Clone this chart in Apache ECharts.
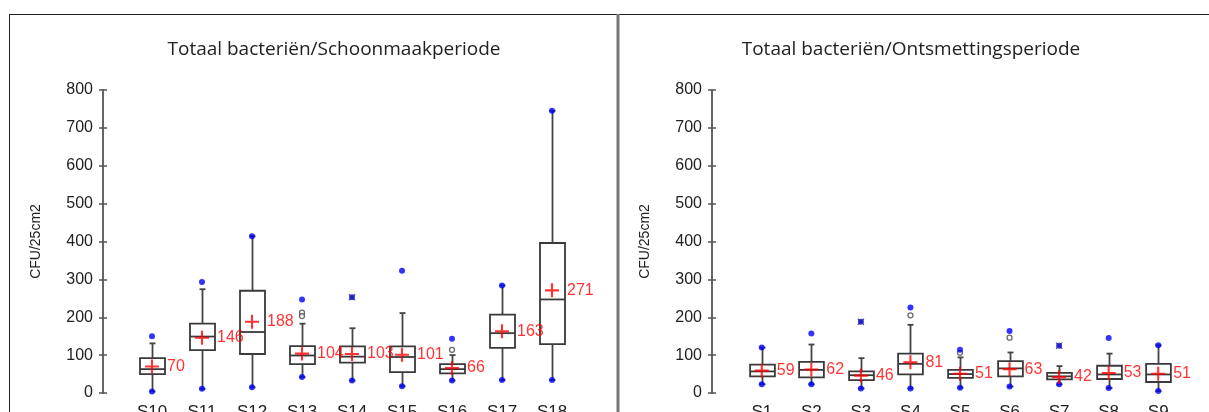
<!DOCTYPE html>
<html>
<head>
<meta charset="utf-8">
<title>Totaal bacteriën</title>
<script src="https://cdn.jsdelivr.net/npm/echarts@6/dist/echarts.min.js"></script>
<style>
  html, body { margin: 0; padding: 0; background: #fff; }
  #container { width: 1209px; height: 412px; }
</style>
</head>
<body>
<div id="container"></div>
<script>
// Schoonmaakperiode (links)
var cats1 = ['S10', 'S11', 'S12', 'S13', 'S14', 'S15', 'S16', 'S17', 'S18'];
var low1 = [4, 11, 15, 42, 33, 18, 33, 34, 34];
var q1_1 = [50, 113, 103, 76, 80, 55, 52, 119, 129];
var med1 = [63, 149, 161, 99, 96, 95, 63, 158, 247];
var q3_1 = [92, 183, 270, 124, 123, 123, 76, 207, 396];
var high1 = [131, 274, 414, 183, 171, 211, 100, 284, 745];
var max1 = [150, 293, 414, 247, null, 323, 143, 284, 745];
var star1 = [null, null, null, null, 253, null, null, null, null];
var outl1 = [['S13', 212], ['S13', 203], ['S16', 114]];
var mean1 = [70, 146, 188, 104, 103, 101, 66, 163, 271];

// Ontsmettingsperiode (rechts)
var cats2 = ['S1', 'S2', 'S3', 'S4', 'S5', 'S6', 'S7', 'S8', 'S9'];
var low2 = [23, 23, 12, 12, 14, 17, 23, 13, 5];
var q1_2 = [44, 41, 34, 49, 40, 44, 36, 37, 29];
var med2 = [57, 61, 47, 77, 50, 65, 44, 49, 49];
var q3_2 = [75, 82, 57, 104, 61, 84, 53, 72, 77];
var high2 = [120, 128, 92, 180, 94, 107, 71, 104, 126];
var max2 = [120, 157, null, 226, 114, 164, null, 145, 126];
var star2 = [null, null, 188, null, null, null, 125, null, null];
var outl2 = [['S4', 205], ['S5', 106], ['S6', 146]];
var mean2 = [59, 62, 46, 81, 51, 63, 42, 53, 51];

var plusPath = 'path://M4.25,0H5.75V4.25H10V5.75H5.75V10H4.25V5.75H0V4.25H4.25Z';
var xPath = 'path://M0,1L1,0L5,4L9,0L10,1L6,5L10,9L9,10L5,6L1,10L0,9L4,5Z';

function boxData(lo, q1, md, q3, hi) {
    var arr = [];
    for (var i = 0; i < lo.length; i++) {
        arr.push([i, lo[i], q1[i], md[i], q3[i], hi[i]]);
    }
    return arr;
}

function pairs(cats, vals) {
    var arr = [];
    for (var i = 0; i < cats.length; i++) {
        if (vals[i] != null) arr.push([cats[i], vals[i]]);
    }
    return arr;
}

function renderBox(params, api) {
    var x = api.value(0);
    var lo = api.coord([x, api.value(1)]);
    var q1 = api.coord([x, api.value(2)]);
    var md = api.coord([x, api.value(3)]);
    var q3 = api.coord([x, api.value(4)]);
    var hi = api.coord([x, api.value(5)]);
    var bw = api.size([1, 0])[0] * 0.5;
    var cx = Math.round(q1[0]) + 0.5;
    var cw = 6;
    var wStyle = { stroke: '#444', lineWidth: 1.8 };
    var bStyle = { fill: '#fff', stroke: '#3a3a3a', lineWidth: 1.8 };
    return {
        type: 'group',
        children: [
            { type: 'line', shape: { x1: cx, y1: q3[1], x2: cx, y2: hi[1] }, style: wStyle },
            { type: 'line', shape: { x1: cx, y1: q1[1], x2: cx, y2: lo[1] }, style: wStyle },
            { type: 'line', shape: { x1: cx - cw / 2, y1: hi[1], x2: cx + cw / 2, y2: hi[1] }, style: wStyle },
            { type: 'line', shape: { x1: cx - cw / 2, y1: lo[1], x2: cx + cw / 2, y2: lo[1] }, style: wStyle },
            { type: 'rect', shape: { x: cx - bw / 2, y: q3[1], width: bw, height: q1[1] - q3[1] }, style: bStyle },
            { type: 'line', shape: { x1: cx - bw / 2, y1: md[1], x2: cx + bw / 2, y2: md[1] }, style: { stroke: '#3a3a3a', lineWidth: 1.8 } }
        ]
    };
}

function panelSeries(idx, cats, lo, q1, md, q3, hi, mx, st, outl, mean) {
    return [
        {
            type: 'custom',
            xAxisIndex: idx, yAxisIndex: idx * 2,
            renderItem: renderBox,
            encode: { x: 0, y: [1, 2, 3, 4, 5] },
            data: boxData(lo, q1, md, q3, hi),
            z: 2
        },
        {
            type: 'scatter',
            xAxisIndex: idx, yAxisIndex: idx * 2,
            symbol: 'circle', symbolSize: 5,
            itemStyle: { color: '#fff', borderColor: '#444', borderWidth: 1.3 },
            data: outl,
            z: 3
        },
        {
            type: 'scatter',
            xAxisIndex: idx, yAxisIndex: idx * 2,
            symbol: 'circle', symbolSize: 6,
            itemStyle: { color: '#0000ff' },
            data: pairs(cats, lo).concat(pairs(cats, mx)).concat(pairs(cats, st)),
            z: 4
        },
        {
            type: 'scatter',
            xAxisIndex: idx, yAxisIndex: idx * 2,
            symbol: xPath, symbolSize: 7,
            itemStyle: { color: '#1a1a5a' },
            data: pairs(cats, st),
            z: 5
        },
        {
            type: 'scatter',
            xAxisIndex: idx, yAxisIndex: idx * 2,
            symbol: plusPath, symbolSize: 14,
            itemStyle: { color: '#ff0000' },
            label: {
                show: true, position: 'right', distance: 8,
                color: '#ff0000', fontSize: 16, fontFamily: 'Liberation Sans',
                formatter: function (p) { return p.value[1]; }
            },
            data: pairs(cats, mean),
            z: 6
        }
    ];
}

function yAxes(gridIdx, offset) {
    var base = {
        gridIndex: gridIdx, type: 'value', position: 'left', min: 0, max: 800, interval: 100,
        offset: offset, splitLine: { show: false }
    };
    var outer = Object.assign({}, base, {
        name: 'CFU/25cm2', nameLocation: 'middle', nameGap: 60, nameRotate: 90,
        nameTextStyle: { color: '#222', fontSize: 14, fontFamily: 'Liberation Sans' },
        axisLine: { show: true, lineStyle: { color: '#666', width: 2 } },
        axisTick: { show: true, inside: false, length: 4, lineStyle: { color: '#555', width: 1.5 } },
        axisLabel: { color: '#222', fontSize: 16, fontFamily: 'Liberation Sans', margin: 10 }
    });
    var inner = Object.assign({}, base, {
        axisLine: { show: false },
        axisTick: { show: true, inside: true, length: 4, lineStyle: { color: '#555', width: 1.5 } },
        axisLabel: { show: false }
    });
    return [outer, inner];
}

function xAxis(gridIdx, cats) {
    return {
        gridIndex: gridIdx, type: 'category', data: cats,
        axisLine: { show: false }, axisTick: { show: false },
        axisLabel: { color: '#222', fontSize: 17, fontFamily: 'Liberation Sans', margin: 11 }
    };
}

var myChart = echarts.init(document.getElementById('container'));

var option = {
    backgroundColor: '#fff',
    animation: false,
    title: [
        {
            text: 'Totaal bacteriën/Schoonmaakperiode',
            left: 329, top: 35, textAlign: 'center',
            textStyle: { fontSize: 19, fontWeight: 'normal', color: '#222', fontFamily: 'Open Sans' }
        },
        {
            text: 'Totaal bacteriën/Ontsmettingsperiode',
            left: 906, top: 35, textAlign: 'center',
            textStyle: { fontSize: 19, fontWeight: 'normal', color: '#222', fontFamily: 'Open Sans' }
        }
    ],
    grid: [
        { left: 127, top: 90, width: 450, height: 303, outerBoundsMode: 'none', containLabel: false },
        { left: 737, top: 90, width: 446, height: 303, outerBoundsMode: 'none', containLabel: false }
    ],
    xAxis: [xAxis(0, cats1), xAxis(1, cats2)],
    yAxis: yAxes(0, 24).concat(yAxes(1, 25)),
    graphic: [
        { type: 'line', shape: { x1: 9, y1: 14.5, x2: 1209, y2: 14.5 }, style: { stroke: '#222', lineWidth: 1 } },
        { type: 'line', shape: { x1: 9.5, y1: 14, x2: 9.5, y2: 412 }, style: { stroke: '#222', lineWidth: 1 } },
        { type: 'line', shape: { x1: 618, y1: 14, x2: 618, y2: 412 }, style: { stroke: '#777', lineWidth: 3 } }
    ],
    series: panelSeries(0, cats1, low1, q1_1, med1, q3_1, high1, max1, star1, outl1, mean1)
        .concat(panelSeries(1, cats2, low2, q1_2, med2, q3_2, high2, max2, star2, outl2, mean2))
};

myChart.setOption(option);
</script>
</body>
</html>
